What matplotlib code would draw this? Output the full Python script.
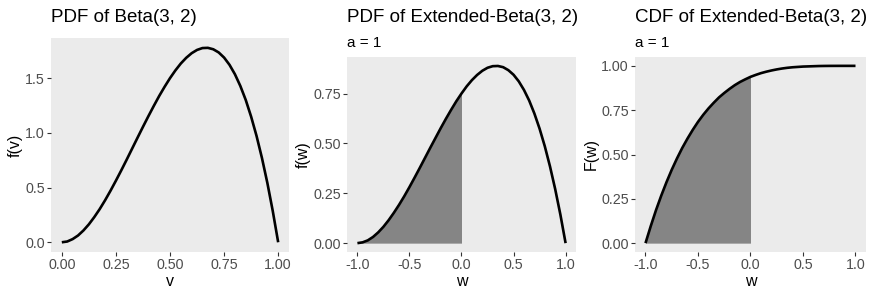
import matplotlib
matplotlib.use("Agg")
import matplotlib.pyplot as plt

plt.rcParams['font.family'] = ['Liberation Sans', 'DejaVu Sans']

# Beta(3, 2) density
v = [i * 0.025 for i in range(41)]
fv = [0.0, 0.007, 0.029, 0.062, 0.108, 0.164, 0.230, 0.303, 0.384, 0.471,
      0.563, 0.658, 0.756, 0.856, 0.956, 1.055, 1.152, 1.246, 1.337, 1.421,
      1.500, 1.571, 1.634, 1.686, 1.728, 1.758, 1.775, 1.777, 1.764, 1.735,
      1.688, 1.622, 1.536, 1.429, 1.301, 1.148, 0.972, 0.770, 0.542, 0.285, 0.0]

# Extended-Beta(3, 2) density on [-1, 1]
w = [-1 + i * 0.05 for i in range(41)]
fw = [0.0, 0.004, 0.014, 0.031, 0.054, 0.082, 0.115, 0.152, 0.192, 0.235,
      0.281, 0.329, 0.378, 0.428, 0.478, 0.527, 0.576, 0.623, 0.668, 0.711,
      0.750, 0.786, 0.817, 0.843, 0.864, 0.879, 0.887, 0.888, 0.882, 0.867,
      0.844, 0.811, 0.768, 0.715, 0.650, 0.574, 0.486, 0.385, 0.271, 0.143, 0.0]

# Extended-Beta(3, 2) CDF on [-1, 1]
Fw = [0.0, 0.096, 0.186, 0.268, 0.344, 0.414, 0.478, 0.537, 0.590, 0.639,
      0.684, 0.724, 0.760, 0.792, 0.822, 0.847, 0.870, 0.891, 0.909, 0.924,
      0.938, 0.949, 0.959, 0.967, 0.974, 0.980, 0.985, 0.989, 0.992, 0.994,
      0.996, 0.997, 0.998, 0.999, 0.9995, 0.9998, 0.9999, 1.0, 1.0, 1.0, 1.0]

titles = ["PDF of Beta(3, 2)", "PDF of Extended-Beta(3, 2)", "CDF of Extended-Beta(3, 2)"]
subtitles = [None, "a = 1", "a = 1"]
xlabels = ["v", "w", "w"]
ylabels = ["f(v)", "f(w)", "F(w)"]

W, H = 878, 295
fig = plt.figure(figsize=(W / 100, H / 100), dpi=100)

boxes = [(51, 38, 289, 252), (347, 57, 576, 252), (635, 57, 866, 252)]
axes = []
for (l, t, r, b) in boxes:
    ax = fig.add_axes([l / W, 1 - b / H, (r - l) / W, (b - t) / H])
    axes.append(ax)

def style(ax):
    ax.set_facecolor("#EBEBEB")
    for s in ax.spines.values():
        s.set_visible(False)
    ax.tick_params(colors="#333333", labelcolor="#4D4D4D", labelsize=10.3,
                   length=3, width=0.8, pad=1.5)

ax1, ax2, ax3 = axes

ax1.plot(v, fv, color="black", lw=1.9, solid_capstyle="butt")
ax1.set_xlim(-0.05, 1.05)
ax1.set_ylim(-0.0889, 1.867)
ax1.set_xticks([0, 0.25, 0.5, 0.75, 1.0])
ax1.set_xticklabels(["0.00", "0.25", "0.50", "0.75", "1.00"])
ax1.set_yticks([0, 0.5, 1.0, 1.5])
ax1.set_yticklabels(["0.0", "0.5", "1.0", "1.5"])

ax2.fill_between(w[:21], fw[:21], 0, color="#858585", lw=0)
ax2.plot(w, fw, color="black", lw=1.9, solid_capstyle="butt")
ax2.set_xlim(-1.1, 1.1)
ax2.set_ylim(-0.0444, 0.933)
ax2.set_yticks([0, 0.25, 0.5, 0.75])
ax2.set_yticklabels(["0.00", "0.25", "0.50", "0.75"])

ax3.fill_between(w[:21], Fw[:21], 0, color="#858585", lw=0)
ax3.plot(w, Fw, color="black", lw=1.9, solid_capstyle="butt")
ax3.set_xlim(-1.1, 1.1)
ax3.set_ylim(-0.05, 1.05)
ax3.set_yticks([0, 0.25, 0.5, 0.75, 1.0])
ax3.set_yticklabels(["0.00", "0.25", "0.50", "0.75", "1.00"])

for ax in (ax2, ax3):
    ax.set_xticks([-1, -0.5, 0, 0.5, 1])
    ax.set_xticklabels(["-1.0", "-0.5", "0.0", "0.5", "1.0"])

for i, ax in enumerate(axes):
    style(ax)
    ax.set_xlabel(xlabels[i], fontsize=11.5, labelpad=1)
    ax.set_ylabel(ylabels[i], fontsize=11.5, labelpad=1.5)
    l = boxes[i][0]
    fig.text(l / W, 1 - 17 / H, titles[i], fontsize=13.5, ha="left", va="center")
    if subtitles[i]:
        fig.text(l / W, 1 - 43 / H, subtitles[i], fontsize=11, ha="left", va="center")

fig.savefig("out.png", dpi=100)
